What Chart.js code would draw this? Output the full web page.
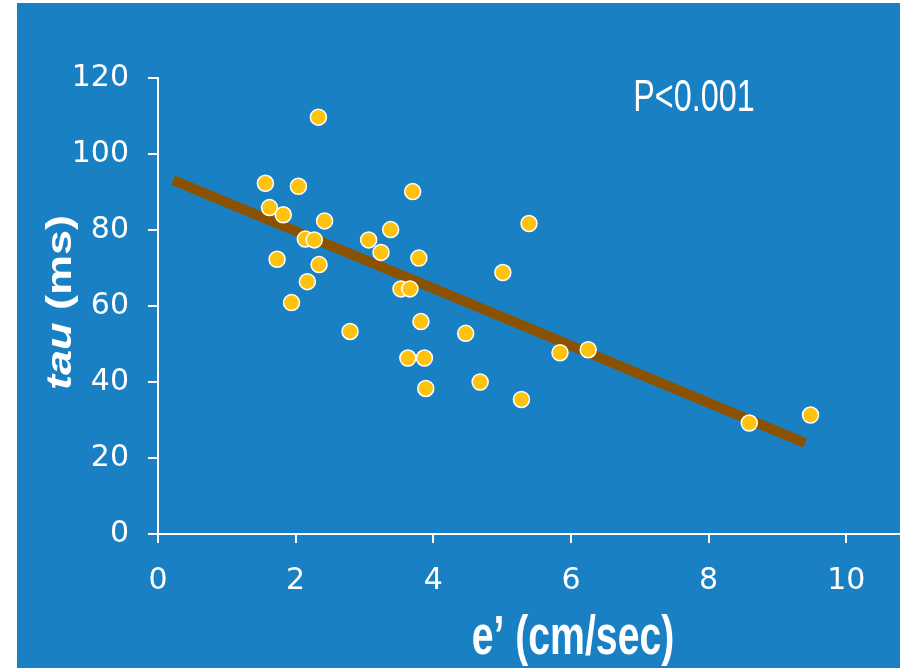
<!DOCTYPE html>
<html lang="en">
<head>
    <meta charset="UTF-8">
    <title>tau vs e'</title>
    <script src="https://cdn.jsdelivr.net/npm/chart.js@4.4.1/dist/chart.umd.min.js"></script>
    <style>
        body { margin: 0; background: #ffffff; overflow: hidden; }
        #wrap { position: relative; width: 900px; height: 668px; }
        #wrap canvas { display: block; }
    </style>
</head>
<body>
    <div id="wrap"><canvas id="tauChart"></canvas></div>

    <script>
        // values
        const ePrime = [1.56, 2.04, 1.62, 1.82, 2.42, 2.33, 3.70, 5.39, 3.38, 2.14, 2.27,
                        3.06, 3.24, 1.73, 2.34, 3.79, 5.01, 2.17, 1.94, 3.53, 3.66, 3.82,
                        2.79, 4.47, 5.84, 6.25, 3.63, 3.87, 4.68, 3.89, 5.28, 8.59, 9.48];
        const tauMs = [92.3, 91.5, 85.9, 84.0, 82.4, 109.7, 90.1, 81.7, 80.1, 77.6, 77.4,
                       77.4, 74.1, 72.3, 70.9, 72.6, 68.8, 66.4, 60.9, 64.5, 64.5, 55.9,
                       53.3, 52.8, 47.7, 48.5, 46.3, 46.3, 40.0, 38.3, 35.4, 29.2, 31.3];

        // regression line end points
        const fitX = [0.22, 9.40];
        const fitY = [93.1, 24.0];

        const xRange = [0, 10.78];
        const yRange = [0, 120];
        const xStep = 2;
        const yStep = 20;

        const pText = 'P<0.001';
        const xTitle = 'e\u2019 (cm/sec)';
        const yTitleItalic = 'tau';
        const yTitleRest = ' (ms)';

        const blue = '#1a80c4';
        const white = '#ffffff';

        // blue slide panel behind the plot
        const backdrop = {
            id: 'backdrop',
            beforeDraw(chart) {
                const ctx = chart.ctx;
                ctx.save();
                ctx.fillStyle = white;
                ctx.fillRect(0, 0, chart.width, chart.height);
                ctx.fillStyle = blue;
                ctx.fillRect(17, 3, chart.width - 17, chart.height - 3);
                ctx.restore();
            }
        };

        // titles and p-value (the slide text is horizontally condensed)
        const slideText = {
            id: 'slideText',
            afterDraw(chart) {
                const ctx = chart.ctx;
                ctx.save();
                ctx.fillStyle = white;
                ctx.textBaseline = 'alphabetic';
                ctx.textAlign = 'center';

                // P value
                ctx.save();
                ctx.translate(694, 111);
                ctx.scale(0.72, 1);
                ctx.font = '45px "Liberation Sans", Arial, sans-serif';
                ctx.fillText(pText, 0, 0);
                ctx.restore();

                // x title
                ctx.save();
                ctx.translate(573, 654);
                ctx.scale(0.70, 1);
                ctx.font = 'bold 56px "Liberation Sans", Arial, sans-serif';
                ctx.fillText(xTitle, 0, 0);
                ctx.restore();

                // y title: italic "tau" + " (ms)"
                ctx.save();
                ctx.translate(70.5, 302.5);
                ctx.rotate(-Math.PI / 2);
                ctx.scale(1, 0.8);
                ctx.textAlign = 'left';
                const fItalic = 'italic bold 45px "Liberation Sans", Arial, sans-serif';
                const fBold = 'bold 45px "Liberation Sans", Arial, sans-serif';
                ctx.font = fItalic;
                const w1 = ctx.measureText(yTitleItalic).width;
                ctx.font = fBold;
                const w2 = ctx.measureText(yTitleRest).width;
                const start = -(w1 + w2) / 2;
                ctx.font = fItalic;
                ctx.fillText(yTitleItalic, start, 0);
                ctx.font = fBold;
                ctx.fillText(yTitleRest, start + w1, 0);
                ctx.restore();

                ctx.restore();
            }
        };

        const points = ePrime.map((x, i) => ({ x: x, y: tauMs[i] }));
        const fitPoints = fitX.map((x, i) => ({ x: x, y: fitY[i] }));

        const tickFont = { family: '"DejaVu Sans", sans-serif', size: 30 };

        new Chart(document.getElementById('tauChart'), {
            type: 'scatter',
            data: {
                datasets: [
                    {
                        label: 'patients',
                        data: points,
                        pointRadius: 8,
                        pointHoverRadius: 8,
                        pointBackgroundColor: '#ffc20e',
                        pointBorderColor: white,
                        pointBorderWidth: 1.5
                    },
                    {
                        type: 'line',
                        label: 'fit',
                        data: fitPoints,
                        borderColor: '#8a5200',
                        borderWidth: 10,
                        borderCapStyle: 'butt',
                        pointRadius: 0,
                        fill: false
                    }
                ]
            },
            options: {
                responsive: true,
                maintainAspectRatio: false,
                animation: false,
                devicePixelRatio: 1,
                layout: {
                    autoPadding: false,
                    padding: { top: 78, right: 0, bottom: 0, left: 0 }
                },
                plugins: {
                    legend: { display: false },
                    tooltip: { enabled: false }
                },
                scales: {
                    x: {
                        type: 'linear',
                        min: xRange[0],
                        max: xRange[1],
                        afterFit: s => {
                            s.height = 134;
                            s.paddingLeft = 0;
                            s.paddingRight = 0;
                        },
                        border: { display: true, color: white, width: 2 },
                        grid: {
                            display: true,
                            drawOnChartArea: false,
                            drawTicks: true,
                            tickLength: 9,
                            color: white,
                            lineWidth: 2
                        },
                        ticks: {
                            stepSize: xStep,
                            includeBounds: false,
                            color: white,
                            font: tickFont,
                            padding: 20,
                            maxRotation: 0
                        }
                    },
                    y: {
                        min: yRange[0],
                        max: yRange[1],
                        afterFit: s => { s.width = 158; },
                        border: { display: true, color: white, width: 2 },
                        grid: {
                            display: true,
                            drawOnChartArea: false,
                            drawTicks: true,
                            tickLength: 10,
                            color: white,
                            lineWidth: 2
                        },
                        ticks: {
                            stepSize: yStep,
                            color: white,
                            font: tickFont,
                            padding: 19
                        }
                    }
                }
            },
            plugins: [backdrop, slideText]
        });
    </script>
</body>
</html>
